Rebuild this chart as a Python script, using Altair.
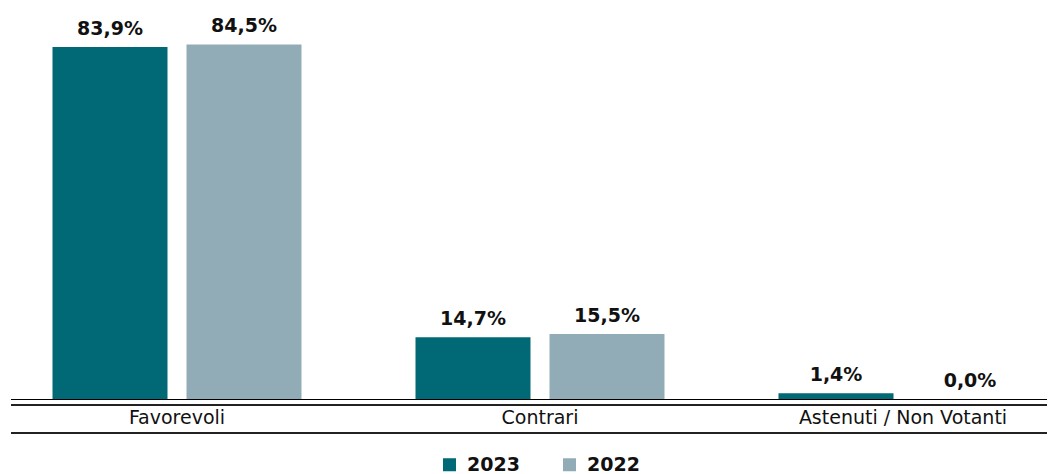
import altair as alt
import pandas as pd

categories = ["Favorevoli", "Contrari", "Astenuti / Non Votanti"]
years = ["2023", "2022"]
values_2023 = [83.9, 14.7, 1.4]
values_2022 = [84.5, 15.5, 0.0]
colors = ["#016876", "#91ACB6"]

rows = []
for c, v in zip(categories, values_2023):
    rows.append({"cat": c, "year": "2023", "val": v})
for c, v in zip(categories, values_2022):
    rows.append({"cat": c, "year": "2022", "val": v})
df = pd.DataFrame(rows)
df["label"] = df["val"].map(lambda v: f"{v:.1f}%".replace(".", ","))

cat_df = pd.DataFrame({"cat": categories})
one = pd.DataFrame({"k": [0]})

W = 1036
H = 378
FONT = "DejaVu Sans"

xscale = alt.Scale(domain=categories, range=[-15.5, 1073.5], paddingInner=0, paddingOuter=0)
xoff = alt.Scale(domain=years, paddingInner=0.1418, paddingOuter=0.4254)
yscale = alt.Scale(domain=[0, 90.1], nice=False, zero=True)

bars = alt.Chart(df).mark_bar().encode(
    x=alt.X("cat:N", scale=xscale, axis=None, sort=categories),
    xOffset=alt.XOffset("year:N", scale=xoff, sort=years),
    y=alt.Y("val:Q", scale=yscale, axis=None),
    color=alt.Color(
        "year:N",
        scale=alt.Scale(domain=years, range=colors),
        sort=years,
        legend=alt.Legend(
            title=None,
            orient="none",
            direction="horizontal",
            legendX=429,
            legendY=434,
            symbolType="square",
            symbolSize=169,
            symbolStrokeWidth=0,
            labelFont=FONT,
            labelFontSize=19,
            labelFontWeight="bold",
            labelColor="#111111",
            labelOffset=8,
            columnPadding=40,
        ),
    ),
)

bar_labels = alt.Chart(df).mark_text(
    dy=-12, baseline="alphabetic", align="center", font=FONT, fontSize=19,
    fontWeight="bold", color="#111111",
).encode(
    x=alt.X("cat:N", scale=xscale, axis=None, sort=categories),
    xOffset=alt.XOffset("year:N", scale=xoff, sort=years),
    y=alt.Y("val:Q", scale=yscale, axis=None),
    text="label:N",
)

axis_labels = alt.Chart(cat_df).mark_text(
    baseline="alphabetic", align="center", font=FONT, fontSize=19,
    color="#111111",
).encode(
    x=alt.X("cat:N", scale=xscale, axis=None, sort=categories),
    y=alt.value(H + 25),
    text="cat:N",
)

base_line = alt.Chart(one).mark_rule(color="#000000", strokeWidth=1).encode(
    x=alt.value(0), x2=alt.value(W), y=alt.value(H + 0.5)
)
top_band = alt.Chart(one).mark_rule(color="#222222", strokeWidth=2).encode(
    x=alt.value(0), x2=alt.value(W), y=alt.value(H + 6)
)
bottom_band = alt.Chart(one).mark_rule(color="#222222", strokeWidth=2).encode(
    x=alt.value(0), x2=alt.value(W), y=alt.value(H + 34)
)

chart = alt.layer(bars, bar_labels, axis_labels, base_line, top_band, bottom_band).properties(
    width=W,
    height=H,
    padding={"left": 3, "top": 13, "right": 0, "bottom": 80},
    autosize=alt.AutoSizeParams(type="none"),
    background="white",
).configure_view(stroke=None)

chart.save("out.html", embed_options={"renderer": "svg", "actions": False})
